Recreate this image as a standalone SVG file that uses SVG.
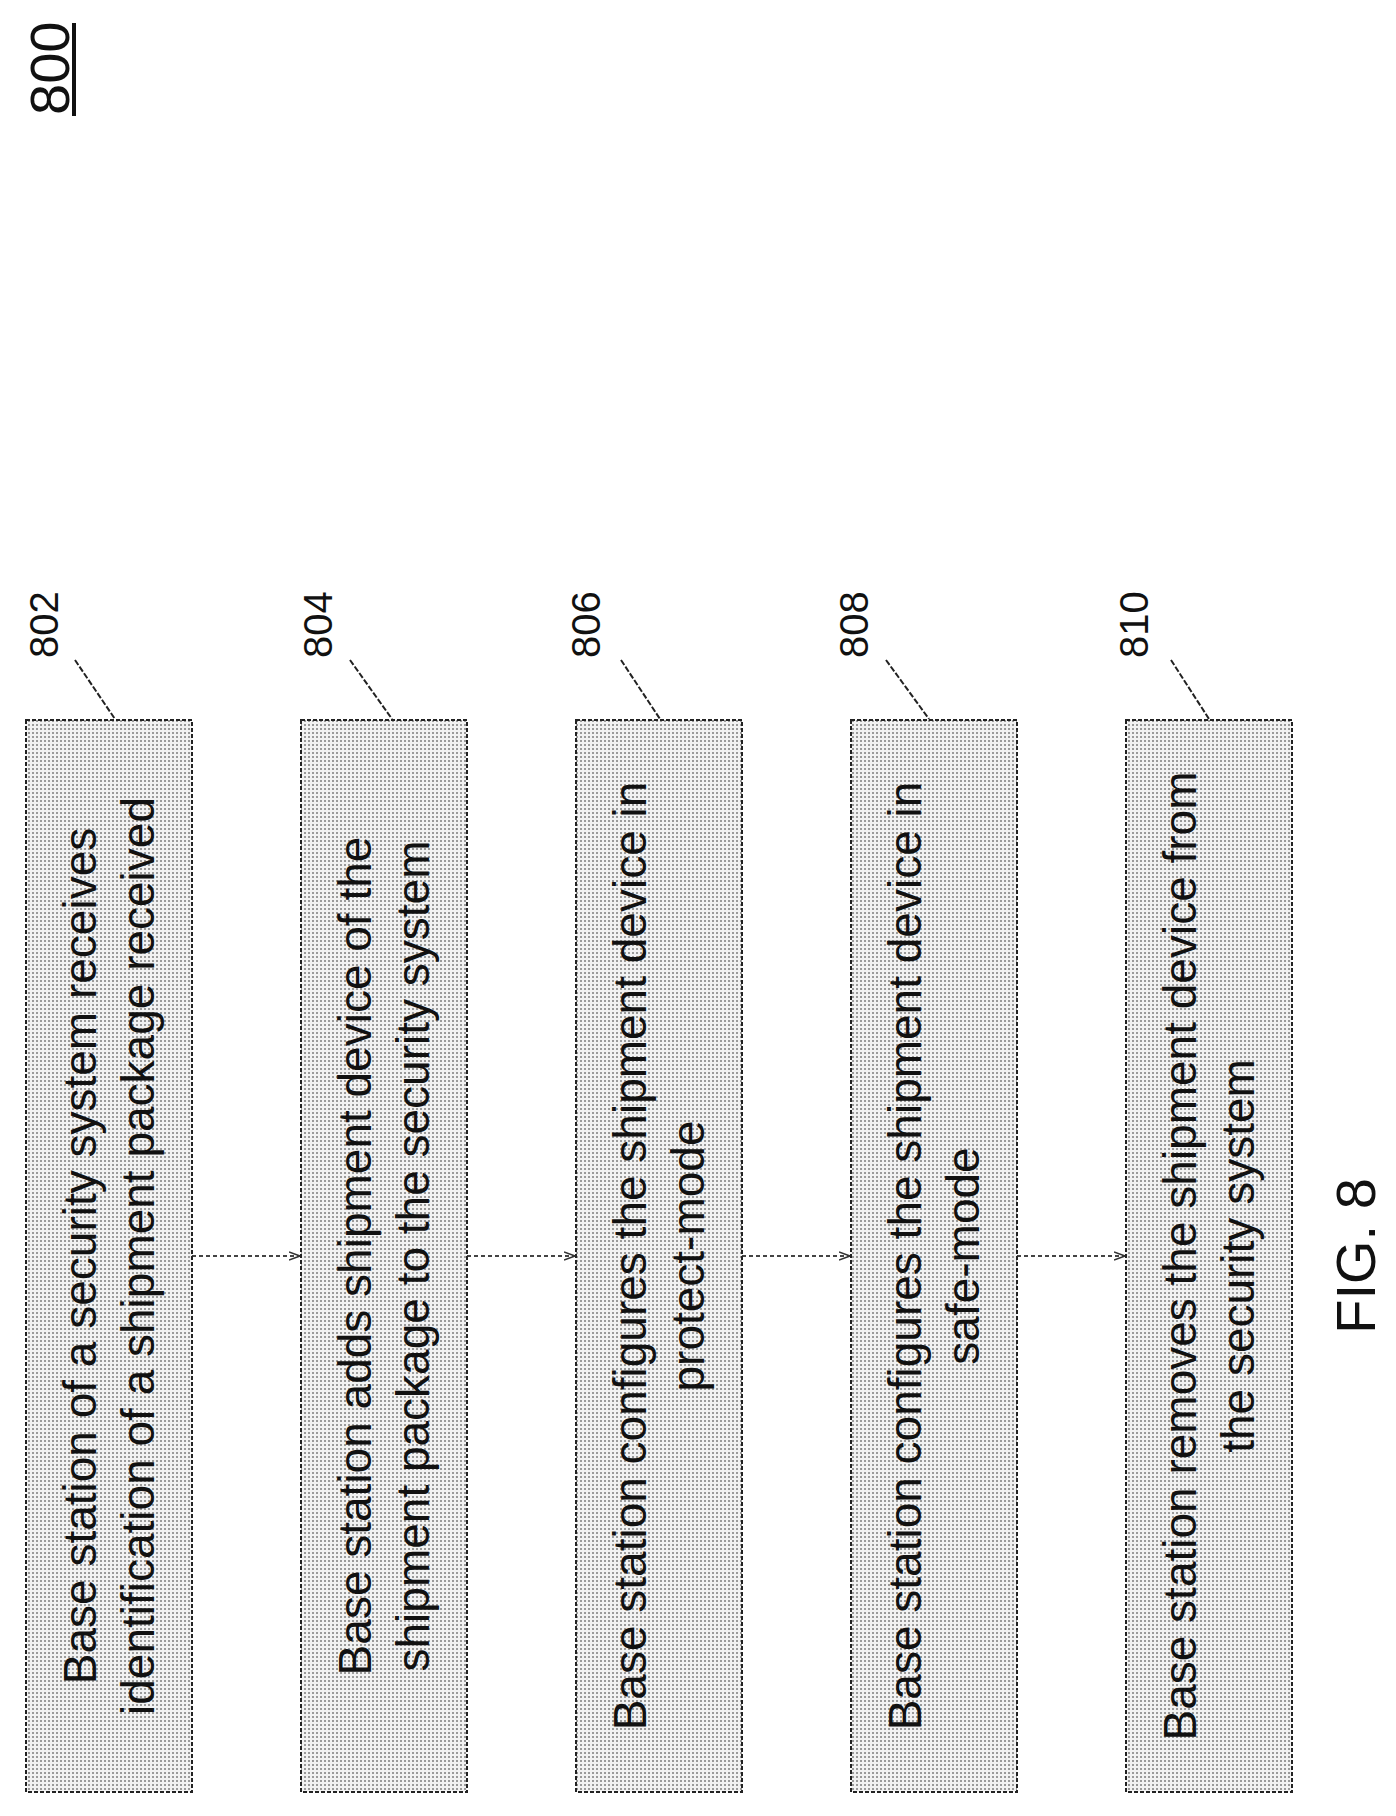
<svg xmlns="http://www.w3.org/2000/svg" width="1396" height="1816" viewBox="0 0 1396 1816">
<defs>
<pattern id="dots" width="4" height="4" patternUnits="userSpaceOnUse"><rect width="4" height="4" fill="#f2f2f2"/><rect width="2" height="2" fill="#9a9a9a"/></pattern>
<marker id="ah" markerWidth="12" markerHeight="10" refX="11" refY="5" orient="auto" markerUnits="userSpaceOnUse"><path d="M0,1 L11,5 L0,9" fill="none" stroke="#333" stroke-width="1.5"/></marker>
</defs>
<style>
.box{fill:url(#dots);stroke:#222;stroke-width:2;stroke-dasharray:4 2}
.t{font-family:"Liberation Sans",Arial,sans-serif;font-size:46px;fill:#111;text-anchor:middle}
.lbl{font-family:"Liberation Sans",Arial,sans-serif;font-size:40px;fill:#111}
.ld{stroke:#222;stroke-width:2;stroke-dasharray:6 2}
.con{stroke:#444;stroke-width:2;stroke-dasharray:4 3;fill:none}
</style>
<rect width="1396" height="1816" fill="#fff"/>
<g id="title">
<text class="lbl" style="font-size:56px" x="69" y="115" transform="rotate(-90 69 115)">800</text>
<line x1="74" y1="23" x2="74" y2="116" stroke="#111" stroke-width="4"/>
</g>
<g id="connectors">
<line class="con" x1="192" y1="1256" x2="300" y2="1256" marker-end="url(#ah)"/>
<line class="con" x1="467" y1="1256" x2="575" y2="1256" marker-end="url(#ah)"/>
<line class="con" x1="742" y1="1256" x2="850" y2="1256" marker-end="url(#ah)"/>
<line class="con" x1="1017" y1="1256" x2="1125" y2="1256" marker-end="url(#ah)"/>
</g>
<g id="n802">
<rect class="box" x="26" y="720" width="166" height="1072"/>
<text class="t" x="96" y="1256" transform="rotate(-90 96 1256)">Base station of a security system receives</text>
<text class="t" x="154" y="1256" transform="rotate(-90 154 1256)">identification of a shipment package received</text>
<text class="lbl" x="58" y="658" transform="rotate(-90 58 658)">802</text>
<line class="ld" x1="75" y1="660" x2="115" y2="719"/>
</g>
<g id="n804">
<rect class="box" x="301" y="720" width="166" height="1072"/>
<text class="t" x="371" y="1256" transform="rotate(-90 371 1256)">Base station adds shipment device of the</text>
<text class="t" x="429" y="1256" transform="rotate(-90 429 1256)">shipment package to the security system</text>
<text class="lbl" x="332" y="658" transform="rotate(-90 332 658)">804</text>
<line class="ld" x1="350" y1="660" x2="392" y2="719"/>
</g>
<g id="n806">
<rect class="box" x="576" y="720" width="166" height="1072"/>
<text class="t" x="646" y="1256" transform="rotate(-90 646 1256)">Base station configures the shipment device in</text>
<text class="t" x="704" y="1256" transform="rotate(-90 704 1256)">protect-mode</text>
<text class="lbl" x="600" y="658" transform="rotate(-90 600 658)">806</text>
<line class="ld" x1="621" y1="660" x2="660" y2="719"/>
</g>
<g id="n808">
<rect class="box" x="851" y="720" width="166" height="1072"/>
<text class="t" x="921" y="1256" transform="rotate(-90 921 1256)">Base station configures the shipment device in</text>
<text class="t" x="979" y="1256" transform="rotate(-90 979 1256)">safe-mode</text>
<text class="lbl" x="868" y="658" transform="rotate(-90 868 658)">808</text>
<line class="ld" x1="886" y1="660" x2="929" y2="719"/>
</g>
<g id="n810">
<rect class="box" x="1126" y="720" width="166" height="1072"/>
<text class="t" x="1196" y="1256" transform="rotate(-90 1196 1256)">Base station removes the shipment device from</text>
<text class="t" x="1254" y="1256" transform="rotate(-90 1254 1256)">the security system</text>
<text class="lbl" x="1148" y="658" transform="rotate(-90 1148 658)">810</text>
<line class="ld" x1="1171" y1="660" x2="1209" y2="719"/>
</g>
<g id="caption">
<text class="lbl" style="font-size:56px;text-anchor:middle" x="1375" y="1256" transform="rotate(-90 1375 1256)">FIG. 8</text>
</g>
</svg>
